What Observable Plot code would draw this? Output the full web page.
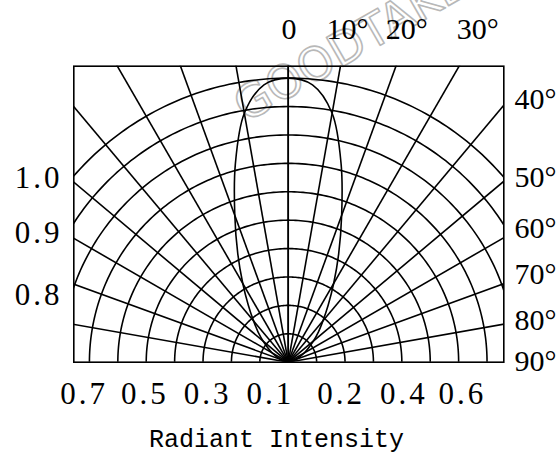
<!DOCTYPE html>
<html><head><meta charset="utf-8">
<script src="https://cdn.jsdelivr.net/npm/d3@7"></script>
<script src="https://cdn.jsdelivr.net/npm/@observablehq/plot@0.6"></script>
<style>body{margin:0;background:#fff;} svg{display:block;}</style>
</head><body><div id="chart"></div>
<script>
// Grid definition (relative intensity rings, angle spokes in degrees)
const ringRadii = [0.1, 0.2, 0.3, 0.4, 0.5, 0.6, 0.7, 0.8, 0.9, 1.0];
const spokeAngles = [-80, -70, -60, -50, -40, -30, -20, -10, 0, 10, 20, 30, 40, 50, 60, 70, 80];

// Radiation pattern (one side, symmetric)
const lobeAngles    = [0, 5, 10, 15, 20, 25, 30, 35, 40, 45, 50, 60, 70, 80, 90];
const lobeIntensity = [1.0, 0.98, 0.89, 0.72, 0.55, 0.42, 0.32, 0.245, 0.19, 0.15, 0.115, 0.065, 0.03, 0.01, 0];

// Labels
const bottomLabels = ["0.7", "0.5", "0.3", "0.1", "0.2", "0.4", "0.6"];
const bottomLabelPos = [-0.724, -0.510, -0.289, -0.068, 0.181, 0.402, 0.608];
const leftLabels = ["1.0", "0.9", "0.8"];
const leftLabelPos = [0.647, 0.453, 0.235];
const rightLabels = ["40°", "50°", "60°", "70°", "80°", "90°"];
const rightLabelPos = [0.926, 0.651, 0.472, 0.310, 0.148, 0.003];
const topLabels = ["0", "10°", "20°", "30°"];
const topLabelPos = [0.003, 0.209, 0.417, 0.667];
const xTitle = "Radiant Intensity";
const watermark = "GOODTAKE";

const rad = d => d * Math.PI / 180;

// derived geometry
const ringPts = [];
for (const r of ringRadii) for (let a = -90; a <= 90; a += 1) ringPts.push({r, x: r * Math.sin(rad(a)), y: r * Math.cos(rad(a))});
const spokes = spokeAngles.map(a => ({x1: 0, y1: 0, x2: 2 * Math.sin(rad(a)), y2: 2 * Math.cos(rad(a))}));
const lobe = [];
for (let i = lobeAngles.length - 1; i >= 0; i--) lobe.push({a: -lobeAngles[i], v: lobeIntensity[i]});
for (let i = 1; i < lobeAngles.length; i++) lobe.push({a: lobeAngles[i], v: lobeIntensity[i]});
lobe.forEach(d => { d.x = d.v * Math.sin(rad(d.a)); d.y = d.v * Math.cos(rad(d.a)); });

const serif = "'Liberation Serif', 'DejaVu Serif', serif";
const mono = "'Liberation Mono', 'DejaVu Sans Mono', monospace";

const chart = Plot.plot({
  width: 560, height: 456,
  marginLeft: 73.3, marginRight: 56.7, marginTop: 65.7, marginBottom: 94.3,
  x: {domain: [-0.755, 0.759], axis: null},
  y: {domain: [0, 1.042], axis: null},
  style: {background: "#fff", overflow: "visible"},
  marks: [
    Plot.text([watermark], {x: () => 0.219, y: () => 1.115, text: d => d, rotate: -30, fontSize: 46,
      fontFamily: "'DejaVu Sans', sans-serif", fill: "none", stroke: "#b8b8b8", strokeWidth: 1.6}),
    Plot.line(ringPts, {x: "x", y: "y", z: "r", stroke: "#000", strokeWidth: 1.6, clip: true}),
    Plot.link(spokes, {x1: "x1", y1: "y1", x2: "x2", y2: "y2", stroke: "#000", strokeWidth: 1.6, clip: true}),
    Plot.ruleX([0], {y1: 0, y2: 1.042, stroke: "#000", strokeWidth: 1.6}),
    Plot.line(lobe, {x: "x", y: "y", curve: "catmull-rom", stroke: "#000", strokeWidth: 1.6, clip: true}),
    Plot.frame({stroke: "#000", strokeWidth: 1.6}),
    Plot.text(bottomLabels, {x: (d, i) => bottomLabelPos[i] + 0.005, y: () => -0.113, text: d => d, fontSize: 31, fontFamily: serif, fill: "#000"}),
    Plot.text(leftLabels, {x: () => -0.795, y: (d, i) => leftLabelPos[i], text: d => d, textAnchor: "end", fontSize: 31, fontFamily: serif, fill: "#000"}),
    Plot.text(rightLabels, {x: () => 0.797, y: (d, i) => rightLabelPos[i], text: d => d, textAnchor: "start", fontSize: 30, fontFamily: "'Liberation Serif', serif", fill: "#000"}),
    Plot.text(topLabels, {x: (d, i) => topLabelPos[i], y: () => 1.171, text: d => d, fontSize: 30, fontFamily: "'Liberation Serif', serif", fill: "#000"}),
    Plot.text([xTitle], {x: () => -0.041, y: () => -0.27, text: d => d, fontSize: 25, fontFamily: mono, fill: "#000"})
  ]
});
d3.select(chart).selectAll("text").filter(function() {
  const f = this.getAttribute("font-family") || (this.parentNode && this.parentNode.getAttribute("font-family")) || "";
  return f.includes("DejaVu Serif");
}).style("letter-spacing", "3px");
document.getElementById("chart").appendChild(chart);
</script>
</body></html>
